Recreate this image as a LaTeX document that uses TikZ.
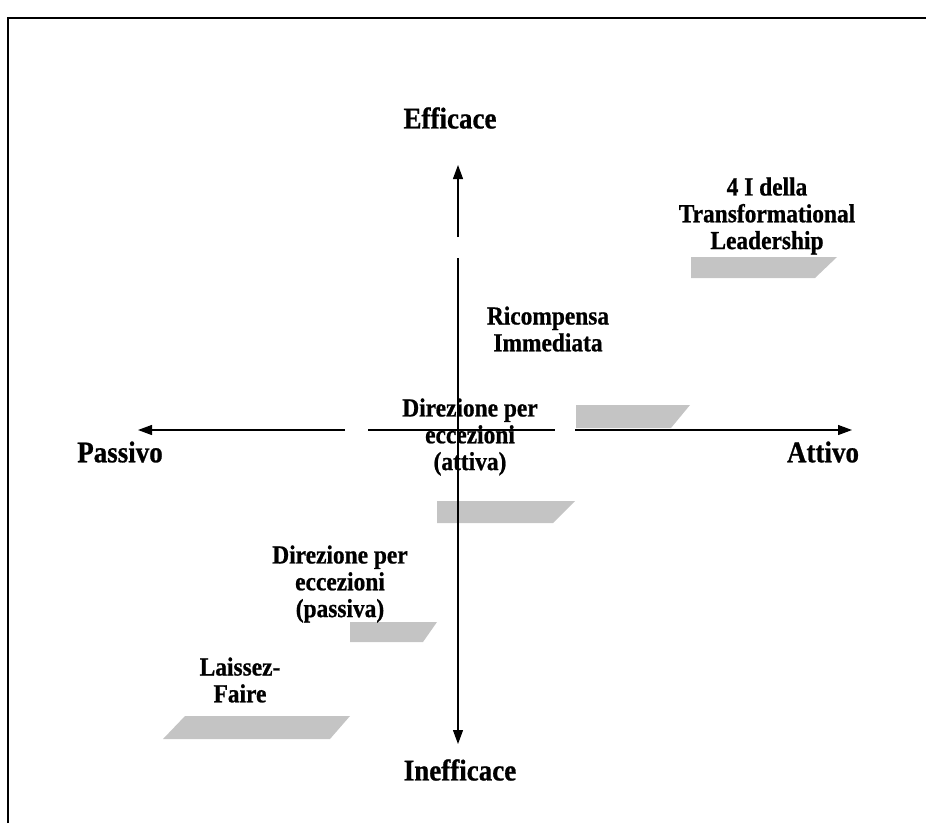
\documentclass[tikz,border=0pt]{standalone}
\usepackage{fontspec}
\setmainfont{Liberation Serif}
\newfontfamily\scanfont[FakeStretch=0.9, FakeBold=0.8]{Liberation Serif}
\usepackage{tikz}
\usetikzlibrary{arrows.meta, positioning}
\definecolor{barGray}{HTML}{C4C4C4}
\tikzset{
  axislabel/.style = {font=\scanfont\bfseries\fontsize{30}{32}\selectfont, inner sep=0pt},
  stylelabel/.style= {font=\scanfont\bfseries\fontsize{26}{26.8}\selectfont, align=center, inner sep=0pt},
  axis/.style      = {line width=1.2pt, -{Triangle[length=14pt, width=10pt]}},
  axisseg/.style   = {line width=1.2pt},
  bar/.style       = {fill=barGray},
  frame/.style     = {line width=2pt},
}
\begin{document}
\begin{tikzpicture}[x=1pt, y=-1pt]
  \useasboundingbox (0,0) rectangle (926,823);

  % ---- Frame ----
  \draw[frame] (8,823) -- (8,18) -- (926,18);

  % ---- Axis end points ----
  \coordinate (top)    at (458,165);
  \coordinate (bottom) at (458,744);
  \coordinate (left)   at (138,430);
  \coordinate (right)  at (852,430);
  \coordinate (vgapA)  at (458,237);
  \coordinate (vgapB)  at (458,258);
  \coordinate (hgapA)  at (345,430);
  \coordinate (hgapB)  at (368,430);
  \coordinate (hgapC)  at (555,430);
  \coordinate (hgapD)  at (575,430);

  % ---- Shaded bars ----
  \fill[bar] (691,257) -- (837,257) -- (815,278) -- (691,278) -- cycle;
  \fill[bar] (576,405) -- (690,405) -- (671,428) -- (576,428) -- cycle;
  \fill[bar] (437,501) -- (575,501) -- (553,523) -- (437,523) -- cycle;
  \fill[bar] (350,622) -- (437,622) -- (423,642) -- (350,642) -- cycle;
  \fill[bar] (185,716) -- (350,716) -- (330,739) -- (163,739) -- cycle;

  % ---- Labels ----
  \node[axislabel] (efficace)   at (450,118) {Efficace};
  \node[axislabel] (inefficace) at (460,770) {Inefficace};
  \node[axislabel] (passivo)    at (120,452) {Passivo};
  \node[axislabel] (attivo)     at (823,452) {Attivo};

  \node[stylelabel] (transf)   at (767,216) {4 I della\\Transformational\\Leadership};
  \node[stylelabel] (ricomp)   at (548,329) {Ricompensa\\Immediata};
  \node[stylelabel] (attiva)   at (470,437) {Direzione per\\eccezioni\\(attiva)};
  \node[stylelabel] (passiva)  at (340,584) {Direzione per\\eccezioni\\(passiva)};
  \node[stylelabel] (laissez)  at (240,680) {Laissez-\\Faire};

  % ---- Axes ----
  \draw[axis] (vgapA) -- (top);
  \draw[axis] (vgapB) -- (bottom);
  \draw[axis] (hgapA) -- (left);
  \draw[axisseg] (hgapB) -- (hgapC);
  \draw[axis] (hgapD) -- (right);

\end{tikzpicture}
\end{document}
